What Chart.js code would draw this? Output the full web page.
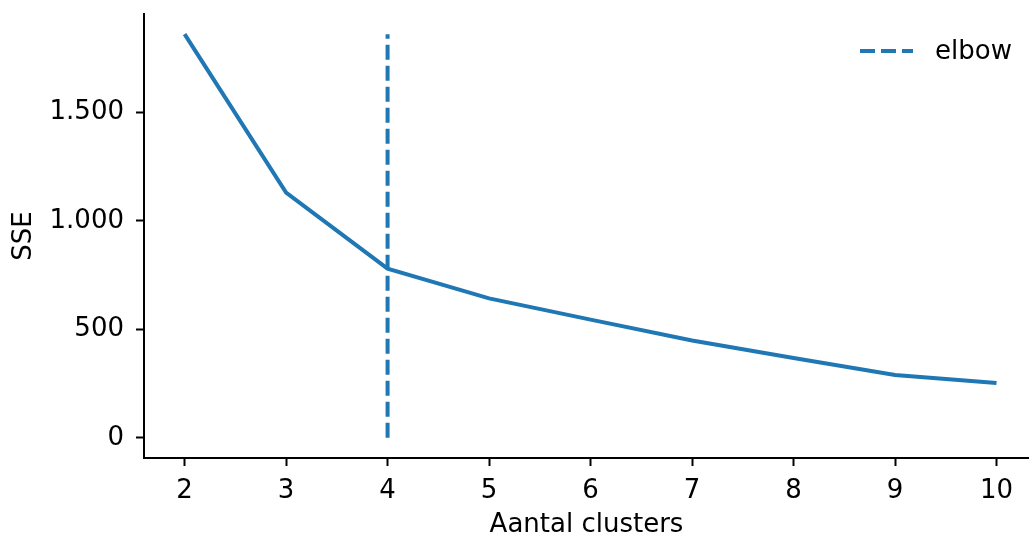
<!DOCTYPE html>
<html>
<head>
<meta charset="utf-8">
<script src="https://cdn.jsdelivr.net/npm/chart.js@4"></script>
<style>
  html, body { margin: 0; padding: 0; background: #fff; }
  #wrap { width: 1029px; height: 535px; }
</style>
</head>
<body>
<div id="wrap"><canvas id="elbowChart" width="1029" height="535"></canvas></div>
<script>
// Data
const clusters = [2, 3, 4, 5, 6, 7, 8, 9, 10];
const sse = [1861, 1131, 780, 643, 545, 449, 368, 290, 253];
const elbowK = 4;
const elbowLine = [0, 1861];
const xTicks = [2, 3, 4, 5, 6, 7, 8, 9, 10];
const yTicks = [0, 500, 1000, 1500];

const blue = '#1f77b4';
const font = { family: 'DejaVu Sans', size: 26 };

function nlNumber(v) {
    return String(v).replace(/\B(?=(\d{3})+(?!\d))/g, '.');
}

// small legend in the top right corner of the plot, matplotlib style
const cornerLegend = {
    id: 'cornerLegend',
    afterDraw(chart) {
        const c = chart.ctx;
        const ds = chart.data.datasets[1];
        const area = chart.chartArea;
        const y = area.top + 37;
        const x0 = area.right - 169;
        c.save();
        c.strokeStyle = ds.borderColor;
        c.lineWidth = ds.borderWidth;
        c.setLineDash(ds.borderDash);
        c.beginPath();
        c.moveTo(x0, y);
        c.lineTo(x0 + 53, y);
        c.stroke();
        c.setLineDash([]);
        c.fillStyle = '#000';
        c.font = font.size + 'px ' + font.family;
        c.textBaseline = 'middle';
        c.fillText(ds.label, x0 + 75, y + 1);
        c.restore();
    }
};

const ctx = document.getElementById('elbowChart').getContext('2d');

new Chart(ctx, {
    type: 'line',
    data: {
        datasets: [{
            label: 'SSE',
            data: clusters.map((k, i) => ({ x: k, y: sse[i] })),
            borderColor: blue,
            backgroundColor: blue,
            borderWidth: 4,
            pointRadius: 0,
            tension: 0
        }, {
            label: 'elbow',
            data: elbowLine.map(v => ({ x: elbowK, y: v })),
            borderColor: blue,
            backgroundColor: 'rgba(0,0,0,0)',
            borderWidth: 4,
            borderDash: [15, 6],
            pointRadius: 0
        }]
    },
    options: {
        responsive: false,
        animation: false,
        events: [],
        layout: { padding: { top: 14, right: 0, bottom: 0, left: 0 } },
        plugins: {
            tooltip: { enabled: false },
            legend: { display: false }
        },
        scales: {
            x: {
                type: 'linear',
                min: 1.6,
                max: 10.32,
                afterBuildTicks: s => { s.ticks = xTicks.map(v => ({ value: v })); },
                afterFit: s => { s.height = 77; s.paddingLeft = 0; s.paddingRight = 0; },
                ticks: { color: '#000', font: font, padding: 10, maxRotation: 0 },
                grid: { drawOnChartArea: false, tickLength: 8, tickWidth: 2, tickColor: '#000' },
                border: { color: '#000', width: 2 },
                title: { display: true, text: 'Aantal clusters', color: '#000', font: font, padding: { top: 0, bottom: -6 } }
            },
            y: {
                min: -93,
                max: 1954,
                afterBuildTicks: s => { s.ticks = yTicks.map(v => ({ value: v })); },
                afterFit: s => { s.width = 144; s.paddingTop = 0; s.paddingBottom = 0; },
                ticks: { color: '#000', font: font, padding: 12, callback: v => nlNumber(v) },
                grid: { drawOnChartArea: false, tickLength: 8, tickWidth: 2, tickColor: '#000' },
                border: { color: '#000', width: 2 },
                title: { display: true, text: 'SSE', color: '#000', font: font, padding: { top: 9, bottom: 0 } }
            }
        }
    },
    plugins: [cornerLegend]
});
</script>
</body>
</html>
